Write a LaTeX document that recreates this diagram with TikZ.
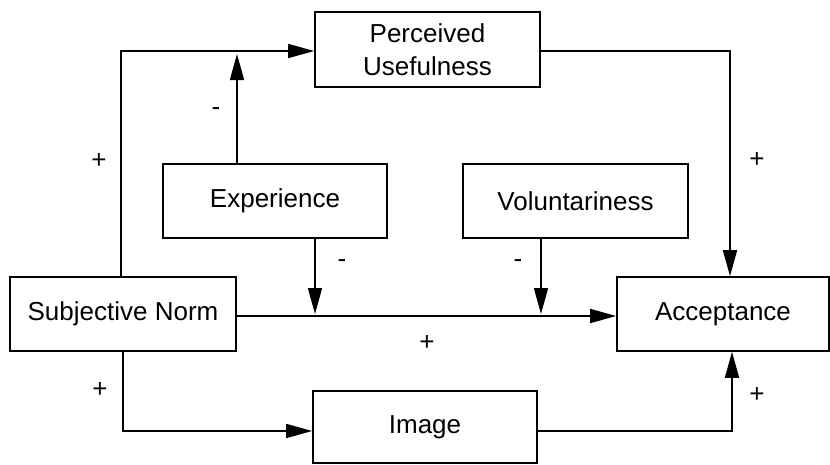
\documentclass[tikz,border=0pt]{standalone}
\usepackage{fontspec}
\setmainfont{Liberation Sans}
\usetikzlibrary{arrows.meta}
\begin{document}
\begin{tikzpicture}[x=1pt,y=-1pt,
  box/.style={draw, line width=1.6pt, inner sep=0pt, align=center,
    font=\fontsize{26}{33}\selectfont},
  arr/.style={line width=1.6pt, -{Triangle[length=26pt,width=14pt]}},
  sign/.style={font=\fontsize{26}{30}\selectfont, inner sep=0pt}]
\useasboundingbox (0,0) rectangle (830,464);

% constructs
\node[box, minimum width=225pt, minimum height=75pt] (pu)  at (427.5,49.5) {Perceived\\Usefulness};
\node[box, minimum width=224pt, minimum height=74pt] (exp) at (275,201) {Experience};
\node[box, minimum width=225pt, minimum height=74pt] (vol) at (575.5,201) {Voluntariness};
\node[box, minimum width=226pt, minimum height=74pt] (sn)  at (123,314) {Subjective Norm};
\node[box, minimum width=212pt, minimum height=74pt] (acc) at (723,314) {Acceptance};
\node[box, minimum width=224pt, minimum height=72pt] (img) at (425,427) {Image};

% routing points
\coordinate (c1) at (121,51);
\coordinate (c2) at (730,51);
\coordinate (c3) at (123,431);
\coordinate (c4) at (732,431);
\coordinate (r)  at (0,316);
\coordinate (j1) at (237,54);
\coordinate (j2) at (315,314);
\coordinate (j3) at (541,314);

% paths
\draw[arr] (sn.north -| c1) |- (pu.west |- c1);
\draw[arr] (exp.north -| j1) -- (j1);
\draw[arr] (pu.east |- c2) -| (acc.north -| c2);
\draw[arr] (sn.east |- r) -- (acc.west |- r);
\draw[arr] (exp.south -| j2) -- (j2);
\draw[arr] (vol.south -| j3) -- (j3);
\draw[arr] (sn.south -| c3) |- (img.west |- c3);
\draw[arr] (img.east |- c4) -| (acc.south -| c4);

% signs
\node[sign] (s1) at (99,161) {+};
\node[sign] (s2) at (216,112) {-};
\node[sign] (s3) at (757,160) {+};
\node[sign] (s4) at (342,264) {-};
\node[sign] (s5) at (518,264) {-};
\node[sign] (s6) at (427,343) {+};
\node[sign] (s7) at (100,390) {+};
\node[sign] (s8) at (757,395) {+};
\end{tikzpicture}
\end{document}
